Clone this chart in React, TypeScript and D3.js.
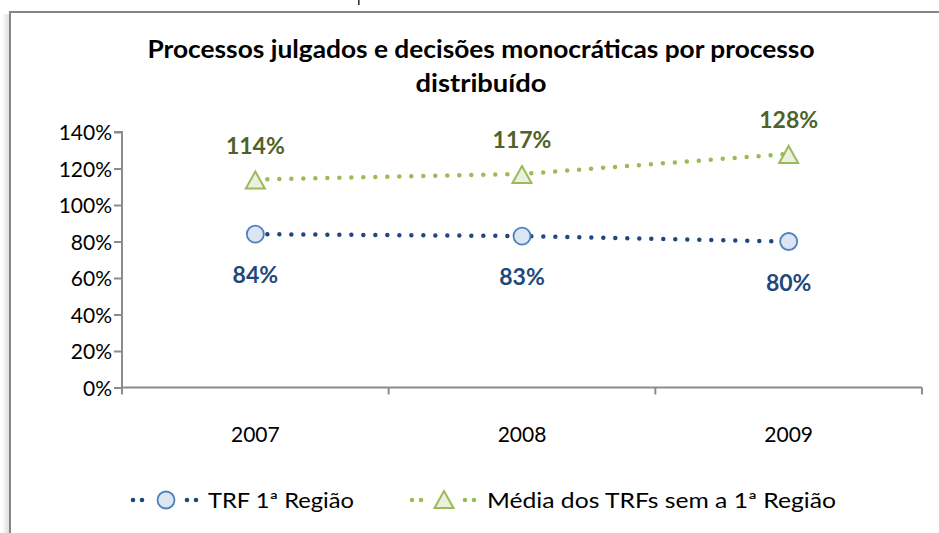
import React, { useEffect, useRef } from "react";
import * as d3 from "d3";

const years = ["2007", "2008", "2009"];
const trf1 = [0.84, 0.83, 0.8];
const mediaTrfs = [1.14, 1.17, 1.28];
const yTicks = [0, 0.2, 0.4, 0.6, 0.8, 1.0, 1.2, 1.4];
const seriesNames = ["TRF 1ª Região", "Média dos  TRFs sem a 1ª Região"];
const titleLines = ["Processos julgados e decisões monocráticas por processo", "distribuído"];

const W = 939;
const H = 533;
const FONT = "Lato, 'Open Sans', 'DejaVu Sans', sans-serif";
const BLUE = "#1F497D";
const BLUE_STROKE = "#4F81BD";
const BLUE_FILL = "#DCE6F2";
const GREEN = "#9BBB59";
const GREEN_DARK = "#4F6228";
const GREEN_FILL = "#EBF1DE";
const AXIS = "#8C8C8C";

export default function App() {
  const ref = useRef<SVGSVGElement>(null);

  useEffect(() => {
    const svg = d3.select(ref.current);
    svg.selectAll("*").remove();

    const x = d3.scaleBand<string>().domain(years).range([122, 922]);
    const y = d3.scaleLinear().domain([0, 1.4]).range([387.5, 132]);
    const cx = (d: string) => (x(d) as number) + x.bandwidth() / 2;

    // frame shadow + border
    const defs = svg.append("defs");
    const grad = defs.append("linearGradient").attr("id", "sh").attr("x1", "0").attr("x2", "1");
    grad.append("stop").attr("offset", "0").attr("stop-color", "#fff");
    grad.append("stop").attr("offset", "1").attr("stop-color", "#d8d8d8");
    svg.append("rect").attr("x", 2).attr("y", 14).attr("width", 8).attr("height", H).attr("fill", "url(#sh)");
    svg.append("rect").attr("x", 10).attr("y", 12).attr("width", W + 20).attr("height", H + 20)
      .attr("fill", "#fff").attr("stroke", "#868686").attr("stroke-width", 2);

    // descender fragment of text above the chart (cut off by the crop)
    svg.append("rect").attr("x", 358).attr("y", 0).attr("width", 1.6).attr("height", 5).attr("fill", "#333");

    // title
    const title = svg.append("g").attr("font-family", FONT).attr("font-weight", "bold").attr("font-size", 24).attr("text-anchor", "middle").attr("fill", "#000");
    title.append("text").attr("x", 481).attr("y", 58).attr("textLength", 667).attr("lengthAdjust", "spacingAndGlyphs").text(titleLines[0]);
    title.append("text").attr("x", 481).attr("y", 92).attr("textLength", 131).attr("lengthAdjust", "spacingAndGlyphs").text(titleLines[1]);

    // y axis
    const yAxis = svg.append("g").attr("transform", "translate(122,0)")
      .call(d3.axisLeft(y).tickValues(yTicks).tickSize(8).tickPadding(2).tickFormat(d3.format(".0%") as any));
    yAxis.select(".domain").attr("stroke", AXIS).attr("stroke-width", 2).attr("d", `M-8,${y(1.4)}H0V${y(0)}`);
    yAxis.selectAll(".tick line").attr("stroke", AXIS).attr("stroke-width", 2);
    yAxis.selectAll(".tick text").attr("font-family", FONT).attr("font-size", 21).attr("fill", "#000").attr("dy", "0.36em");

    // x axis
    const xg = svg.append("g");
    xg.append("line").attr("x1", 122).attr("x2", 922).attr("y1", y(0)).attr("y2", y(0)).attr("stroke", AXIS).attr("stroke-width", 2);
    const bounds = [...years.map((d) => x(d) as number), 922];
    xg.selectAll("line.t").data(bounds).join("line").attr("class", "t")
      .attr("x1", (d) => d).attr("x2", (d) => d).attr("y1", y(0)).attr("y2", y(0) + 7)
      .attr("stroke", AXIS).attr("stroke-width", 2);
    xg.selectAll("text").data(years).join("text")
      .attr("x", (d) => cx(d)).attr("y", 442).attr("text-anchor", "middle")
      .attr("font-family", FONT).attr("font-size", 21).attr("fill", "#000").text((d) => d);

    const line = d3.line<[number, number]>().x((d) => d[0]).y((d) => d[1]);
    const triPath = (px: number, py: number) => `M${px},${py - 9}L${px + 9.5},${py + 8}L${px - 9.5},${py + 8}Z`;

    const series = [
      { vals: trf1, color: BLUE, marker: "circle" },
      { vals: mediaTrfs, color: GREEN, marker: "tri" },
    ];
    series.forEach((s) => {
      const pts: [number, number][] = years.map((d, i) => [cx(d), y(s.vals[i])]);
      svg.append("path").attr("d", line(pts)).attr("fill", "none").attr("stroke", s.color)
        .attr("stroke-width", 4.5).attr("stroke-linecap", "round").attr("stroke-dasharray", "0 12");
      pts.forEach(([px, py]) => {
        if (s.marker === "circle") {
          svg.append("circle").attr("cx", px).attr("cy", py).attr("r", 8.5)
            .attr("fill", BLUE_FILL).attr("stroke", BLUE_STROKE).attr("stroke-width", 1.8);
        } else {
          svg.append("path").attr("d", triPath(px, py + 1))
            .attr("fill", GREEN_FILL).attr("stroke", GREEN).attr("stroke-width", 2);
        }
      });
    });

    // data labels
    const fmt = d3.format(".0%");
    svg.selectAll("text.lg").data(mediaTrfs).join("text").attr("class", "lg")
      .attr("x", (_d, i) => cx(years[i])).attr("y", (d) => y(d) - 34).attr("dy", "0.36em")
      .attr("text-anchor", "middle").attr("font-family", FONT).attr("font-weight", "bold")
      .attr("font-size", 23).attr("fill", GREEN_DARK).text((d) => fmt(d));
    svg.selectAll("text.lb").data(trf1).join("text").attr("class", "lb")
      .attr("x", (_d, i) => cx(years[i])).attr("y", (d) => y(d) + 41).attr("dy", "0.36em")
      .attr("text-anchor", "middle").attr("font-family", FONT).attr("font-weight", "bold")
      .attr("font-size", 23).attr("fill", BLUE).text((d) => fmt(d));

    // legend
    const ly = 500;
    const leg = [
      { x0: 133, mx: 166, tx: 208, tw: 146, color: BLUE, marker: "circle", name: seriesNames[0] },
      { x0: 412, mx: 444, tx: 487, tw: 349, color: GREEN, marker: "tri", name: seriesNames[1] },
    ];
    leg.forEach((l) => {
      const dots = [l.x0, l.x0 + 9, l.mx + 21, l.mx + 30];
      dots.forEach((dx) => svg.append("circle").attr("cx", dx).attr("cy", ly).attr("r", 2.3).attr("fill", l.color));
      if (l.marker === "circle") {
        svg.append("circle").attr("cx", l.mx).attr("cy", ly).attr("r", 8.5)
          .attr("fill", BLUE_FILL).attr("stroke", BLUE_STROKE).attr("stroke-width", 1.8);
      } else {
        svg.append("path").attr("d", triPath(l.mx, ly))
          .attr("fill", GREEN_FILL).attr("stroke", GREEN).attr("stroke-width", 2);
      }
      svg.append("text").attr("x", l.tx).attr("y", ly).attr("dy", "0.36em")
        .attr("font-family", FONT).attr("font-size", 21).attr("fill", "#000")
        .attr("textLength", l.tw).attr("lengthAdjust", "spacingAndGlyphs").text(l.name);
    });
  }, []);

  return (
    <svg ref={ref} width={W} height={H} style={{ position: "absolute", left: 0, top: 0, background: "#fff" }} />
  );
}
